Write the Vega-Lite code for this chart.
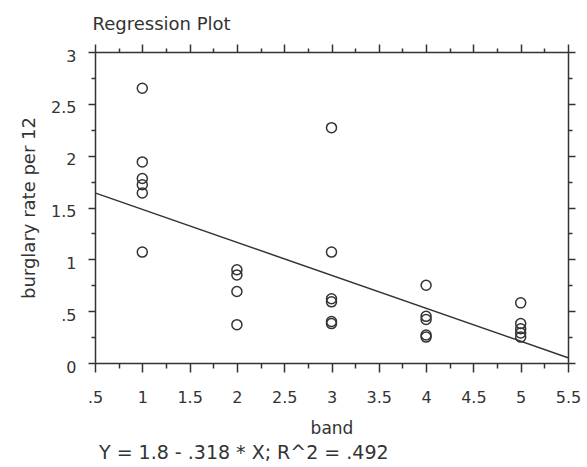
{
  "$schema": "https://vega.github.io/schema/vega-lite/v6.json",
  "width": 473,
  "height": 311,
  "autosize": {"type": "none"},
  "padding": {"left": 95, "top": 52, "right": 19, "bottom": 104},
  "background": "white",
  "title": {
    "text": "Y = 1.8 - .318 * X; R^2 = .492",
    "orient": "bottom",
    "anchor": "start",
    "frame": "group",
    "font": "DejaVu Sans",
    "fontSize": 19,
    "fontWeight": "normal",
    "color": "#333",
    "offset": 8,
    "dx": 4
  },
  "config": {
    "view": {"stroke": null},
    "axis": {
      "domainColor": "#333",
      "domainWidth": 1.5,
      "tickColor": "#333",
      "tickWidth": 1.5,
      "labelFont": "DejaVu Sans",
      "labelFontSize": 16,
      "labelColor": "#333",
      "titleFont": "DejaVu Sans",
      "titleFontSize": 17,
      "titleFontWeight": "normal",
      "titleColor": "#333",
      "grid": false,
      "labelOverlap": false,
      "labelFlush": false,
      "labelBound": false
    }
  },
  "layer": [
    {
      "data": {
        "values": [
          {"band": 1, "rate": 2.65},
          {"band": 1, "rate": 1.94},
          {"band": 1, "rate": 1.78},
          {"band": 1, "rate": 1.72},
          {"band": 1, "rate": 1.64},
          {"band": 1, "rate": 1.07},
          {"band": 2, "rate": 0.9},
          {"band": 2, "rate": 0.85},
          {"band": 2, "rate": 0.69},
          {"band": 2, "rate": 0.37},
          {"band": 3, "rate": 2.27},
          {"band": 3, "rate": 1.07},
          {"band": 3, "rate": 0.62},
          {"band": 3, "rate": 0.59},
          {"band": 3, "rate": 0.4},
          {"band": 3, "rate": 0.38},
          {"band": 4, "rate": 0.75},
          {"band": 4, "rate": 0.45},
          {"band": 4, "rate": 0.42},
          {"band": 4, "rate": 0.27},
          {"band": 4, "rate": 0.25},
          {"band": 5, "rate": 0.58},
          {"band": 5, "rate": 0.38},
          {"band": 5, "rate": 0.33},
          {"band": 5, "rate": 0.29},
          {"band": 5, "rate": 0.25}
        ]
      },
      "mark": {"type": "point", "shape": "circle", "filled": false, "size": 100, "strokeWidth": 1.5, "color": "#333", "opacity": 1},
      "encoding": {
        "x": {
          "field": "band",
          "type": "quantitative",
          "scale": {"domain": [0.5, 5.5], "nice": false, "zero": false},
          "axis": {
            "orient": "bottom",
            "title": "band",
            "titleY": 70,
            "titleBaseline": "alphabetic",
            "values": [0.5, 0.75, 1, 1.25, 1.5, 1.75, 2, 2.25, 2.5, 2.75, 3, 3.25, 3.5, 3.75, 4, 4.25, 4.5, 4.75, 5, 5.25, 5.5],
            "tickSize": {"condition": {"test": "datum.value * 2 % 1 != 0", "value": 5}, "value": 9},
            "labelExpr": "datum.value * 2 % 1 != 0 ? '' : (datum.value == 0.5 ? '.5' : format(datum.value, '~g'))",
            "labelPadding": 17
          }
        },
        "y": {
          "field": "rate",
          "type": "quantitative",
          "scale": {"domain": [0, 3], "nice": false, "zero": false},
          "axis": {
            "orient": "left",
            "title": "burglary rate per 12",
            "titleFontSize": 18,
            "titleX": -66,
            "titleBaseline": "middle",
            "values": [0, 0.25, 0.5, 0.75, 1, 1.25, 1.5, 1.75, 2, 2.25, 2.5, 2.75, 3],
            "tickSize": {"condition": {"test": "datum.value * 2 % 1 != 0", "value": 4}, "value": 7},
            "labelExpr": "datum.value * 2 % 1 != 0 ? '' : (datum.value == 0.5 ? '.5' : format(datum.value, '~g'))",
            "labelPadding": 12,
            "labelOffset": 4
          }
        }
      }
    },
    {
      "data": {
        "values": [
          {"band": 0.5, "rate": 1.641},
          {"band": 5.5, "rate": 0.051}
        ]
      },
      "mark": {"type": "line", "color": "#333", "strokeWidth": 1.5},
      "encoding": {
        "x": {
          "field": "band",
          "type": "quantitative",
          "scale": {"domain": [0.5, 5.5], "nice": false, "zero": false},
          "axis": {
            "orient": "top",
            "title": "Regression Plot",
            "titleFontSize": 18,
            "titleAnchor": "start",
            "titleAlign": "left",
            "titleX": -3,
            "titleY": -23,
            "titleBaseline": "alphabetic",
            "values": [0.5, 0.75, 1, 1.25, 1.5, 1.75, 2, 2.25, 2.5, 2.75, 3, 3.25, 3.5, 3.75, 4, 4.25, 4.5, 4.75, 5, 5.25, 5.5],
            "tickSize": {"condition": {"test": "datum.value * 2 % 1 != 0", "value": 4}, "value": 8},
            "labels": false
          }
        },
        "y": {
          "field": "rate",
          "type": "quantitative",
          "scale": {"domain": [0, 3], "nice": false, "zero": false},
          "axis": {
            "orient": "right",
            "title": null,
            "values": [0, 0.25, 0.5, 0.75, 1, 1.25, 1.5, 1.75, 2, 2.25, 2.5, 2.75, 3],
            "tickSize": {"condition": {"test": "datum.value * 2 % 1 != 0", "value": 4}, "value": 7},
            "labels": false
          }
        }
      }
    }
  ],
  "resolve": {"axis": {"x": "independent", "y": "independent"}}
}
